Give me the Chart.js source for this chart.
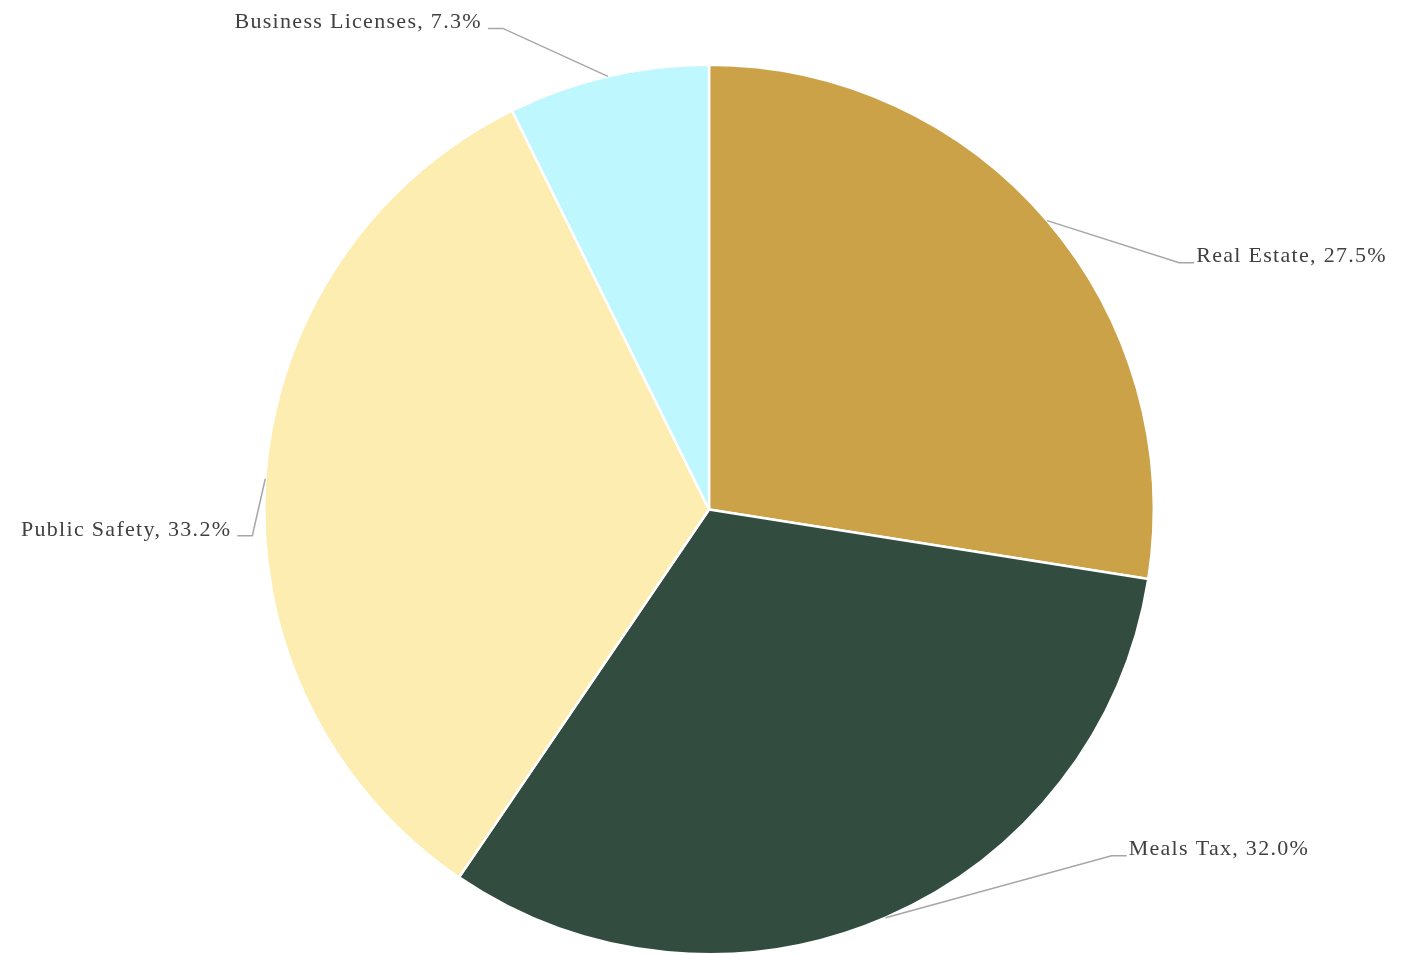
<!DOCTYPE html>
<html>
<head>
<meta charset="utf-8">
<script src="https://cdn.jsdelivr.net/npm/chart.js@4/dist/chart.umd.min.js"></script>
<style>
  html, body { margin: 0; padding: 0; background: #fff; overflow: hidden; }
  #wrap { width: 1409px; height: 960px; }
</style>
</head>
<body>
<div id="wrap"><canvas id="revenuePie"></canvas></div>
<script>
const categories = ["Real Estate", "Meals Tax", "Public Safety", "Business Licenses"];
const shares = [27.5, 32.0, 33.2, 7.3];
const sliceColors = ["#CCA249", "#324D40", "#FDEDB0", "#BEF7FD"];

// elbow of each leader line, relative to the slice's outer midpoint
const labelElbows = [[132, 42], [226, -62], [-13, 57], [-105, -48]];

const outerLabels = {
  id: "outerLabels",
  afterDatasetsDraw(chart) {
    const ctx = chart.ctx;
    const meta = chart.getDatasetMeta(0);
    ctx.save();
    ctx.font = "22px 'Liberation Serif', serif";
    ctx.letterSpacing = "1.3px";
    ctx.textBaseline = "middle";
    meta.data.forEach((arc, i) => {
      const { x, y, startAngle, endAngle, outerRadius } = arc.getProps(
        ["x", "y", "startAngle", "endAngle", "outerRadius"], true);
      const mid = (startAngle + endAngle) / 2;
      const px = x + Math.cos(mid) * outerRadius;
      const py = y + Math.sin(mid) * outerRadius;
      const ex = px + labelElbows[i][0];
      const ey = py + labelElbows[i][1];
      const right = labelElbows[i][0] >= 0;
      const tx = ex + (right ? 15 : -15);

      ctx.strokeStyle = "#A6A6A6";
      ctx.lineWidth = 1.5;
      ctx.beginPath();
      ctx.moveTo(px, py);
      ctx.lineTo(ex, ey);
      ctx.lineTo(tx, ey);
      ctx.stroke();

      ctx.fillStyle = "#404040";
      ctx.textAlign = right ? "left" : "right";
      ctx.fillText(categories[i] + ", " + shares[i].toFixed(1) + "%", tx + (right ? 2 : -6), ey - 6);
    });
    ctx.restore();
  }
};

new Chart(document.getElementById("revenuePie"), {
  type: "pie",
  data: {
    labels: categories,
    datasets: [{
      data: shares,
      backgroundColor: sliceColors,
      borderColor: "#ffffff",
      borderWidth: 2.5,
    }],
  },
  options: {
    responsive: true,
    maintainAspectRatio: false,
    animation: false,
    layout: { padding: { top: 62, bottom: 3, left: 263, right: 254 } },
    plugins: {
      legend: { display: false },
      tooltip: { enabled: false },
    },
  },
  plugins: [outerLabels],
});
</script>
</body>
</html>
